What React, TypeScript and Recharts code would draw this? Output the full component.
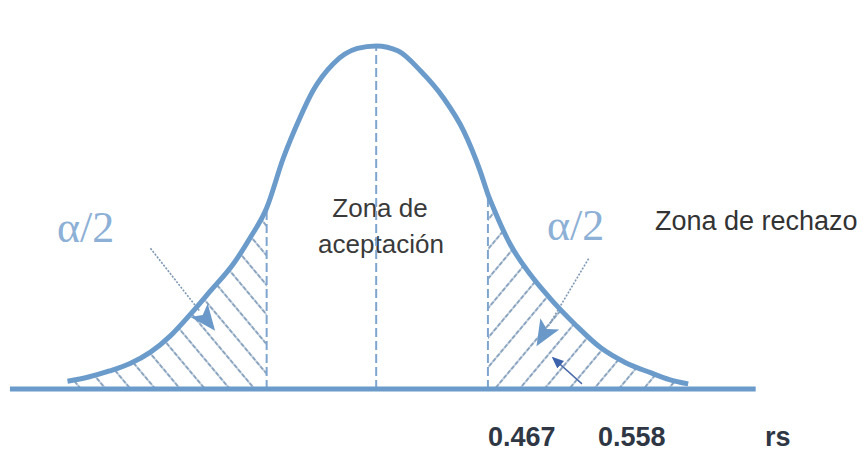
import React from 'react';
import { ComposedChart, Line, Area, XAxis, YAxis, ReferenceLine } from 'recharts';

// curve: z position and density height
const zValues = [-2.79, -2.6, -2.41, -2.22, -2.04, -1.86, -1.68, -1.5, -1.29, -1.14, -0.99, -0.84, -0.69, -0.57, -0.39, -0.17, 0, 0.2, 0.4, 0.61, 0.79, 0.94, 1.01, 1.06, 1.21, 1.39, 1.57, 1.8, 2.03, 2.25, 2.48, 2.65, 2.82];
const density = [0.009, 0.014, 0.021, 0.03, 0.043, 0.062, 0.087, 0.114, 0.146, 0.176, 0.211, 0.269, 0.316, 0.348, 0.379, 0.397, 0.4, 0.394, 0.371, 0.339, 0.301, 0.254, 0.227, 0.211, 0.169, 0.134, 0.106, 0.075, 0.048, 0.031, 0.019, 0.011, 0.006];

const lowerBound = -0.99;
const upperBound = 1.01;
const lowerBoundHeight = 0.211;
const upperBoundHeight = 0.227;
const peakHeight = 0.4;

const axisRange = [-3.31, 3.43];

// annotation arrows: [x1, y1, x2, y2] in chart units
const leftArrow = [-2.04, 0.164, -1.59, 0.09];
const rightArrow = [1.92, 0.152, 1.56, 0.074];
const smallArrow = [1.86, 0.006, 1.6, 0.036];

const bottomLabels = ['0.467', '0.558', 'rs'];

const data = zValues.map((z, i) => ({
  z,
  curve: density[i],
  left: z <= lowerBound ? density[i] : null,
  right: z >= upperBound ? density[i] : null,
}));

const BLUE = '#6b9bcb';
const DASH = '#7fa5cf';
const HATCH = '#8aa3bf';

const arrowShape = (color: string, width: number, marker: string, dash?: string) => (p: any) => (
  <line
    x1={p.x1}
    y1={p.y1}
    x2={p.x2}
    y2={p.y2}
    stroke={color}
    strokeWidth={width}
    strokeDasharray={dash}
    markerEnd={`url(#${marker})`}
  />
);

export default function App() {
  return (
    <div style={{ position: 'absolute', left: 0, top: 0, background: '#fff' }}>
      <ComposedChart
        width={863}
        height={454}
        data={data}
        margin={{ top: 3, right: 0, left: 0, bottom: 65 }}
      >
        <defs>
          <pattern id="hatchL" width="19" height="6" patternUnits="userSpaceOnUse" patternTransform="rotate(-40)">
            <line x1="2" y1="0" x2="2" y2="6" stroke={HATCH} strokeWidth="2" strokeDasharray="2.5 1" />
          </pattern>
          <pattern id="hatchR" width="19" height="6" patternUnits="userSpaceOnUse" patternTransform="rotate(40)">
            <line x1="2" y1="0" x2="2" y2="6" stroke={HATCH} strokeWidth="2" strokeDasharray="2.5 1" />
          </pattern>
          <marker id="blob" viewBox="0 -13 28 26" refX="2" refY="0" markerWidth="28" markerHeight="26" markerUnits="userSpaceOnUse" orient="auto">
            <path d="M0,-11 L26,0 L0,11 L6,0 Z" fill="#6a99c9" />
          </marker>
          <marker id="tip" viewBox="0 -6 12 12" refX="10" refY="0" markerWidth="12" markerHeight="12" markerUnits="userSpaceOnUse" orient="auto">
            <path d="M0,-5 L12,0 L0,5 Z" fill="#3d63ad" />
          </marker>
        </defs>
        <XAxis type="number" dataKey="z" domain={[-3.4, 4.4]} hide allowDataOverflow />
        <YAxis type="number" domain={[0, 0.45]} hide allowDataOverflow />
        <Area dataKey="left" type="monotone" stroke="none" fill="url(#hatchL)" fillOpacity={1} isAnimationActive={false} />
        <Area dataKey="right" type="monotone" stroke="none" fill="url(#hatchR)" fillOpacity={1} isAnimationActive={false} />
        <ReferenceLine segment={[{ x: 0, y: 0 }, { x: 0, y: peakHeight }]} stroke={DASH} strokeWidth={2} strokeDasharray="9 4" />
        <ReferenceLine segment={[{ x: lowerBound, y: 0 }, { x: lowerBound, y: lowerBoundHeight }]} stroke={DASH} strokeWidth={2} strokeDasharray="9 4" />
        <ReferenceLine segment={[{ x: upperBound, y: 0 }, { x: upperBound, y: upperBoundHeight }]} stroke={DASH} strokeWidth={2} strokeDasharray="9 4" />
        <ReferenceLine
          segment={[{ x: leftArrow[0], y: leftArrow[1] }, { x: leftArrow[2], y: leftArrow[3] }]}
          ifOverflow="visible"
          shape={arrowShape('#7f97b2', 1.6, 'blob', '2 1.5')}
        />
        <ReferenceLine
          segment={[{ x: rightArrow[0], y: rightArrow[1] }, { x: rightArrow[2], y: rightArrow[3] }]}
          ifOverflow="visible"
          shape={arrowShape('#7f97b2', 1.6, 'blob', '2 1.5')}
        />
        <ReferenceLine
          segment={[{ x: smallArrow[0], y: smallArrow[1] }, { x: smallArrow[2], y: smallArrow[3] }]}
          ifOverflow="visible"
          shape={arrowShape('#4a6aa8', 1.4, 'tip')}
        />
        <Line dataKey="curve" type="monotone" stroke={BLUE} strokeWidth={5} dot={false} isAnimationActive={false} />
        <ReferenceLine
          segment={[{ x: axisRange[0], y: 0 }, { x: axisRange[1], y: 0 }]}
          stroke={BLUE}
          strokeWidth={5}
          ifOverflow="visible"
        />

        <text x={57} y={242} fontFamily="Liberation Serif" fontSize={44} fill="#8db0d6">α/2</text>
        <text x={547} y={240} fontFamily="Liberation Serif" fontSize={44} fill="#8db0d6">α/2</text>
        <text x={380} y={217} textAnchor="middle" fontFamily="Liberation Sans" fontSize={26} fill="#3a3a3a">Zona de</text>
        <text x={381} y={253} textAnchor="middle" fontFamily="Liberation Sans" fontSize={26} fill="#3a3a3a">aceptación</text>
        <text x={655} y={230} fontFamily="Liberation Sans" fontSize={27} fill="#333">Zona de rechazo</text>
        <text x={488} y={446} fontFamily="Liberation Sans" fontWeight="bold" fontSize={27} fill="#2f3745">{bottomLabels[0]}</text>
        <text x={598} y={446} fontFamily="Liberation Sans" fontWeight="bold" fontSize={27} fill="#2f3745">{bottomLabels[1]}</text>
        <text x={765} y={446} fontFamily="Liberation Sans" fontWeight="bold" fontSize={27} fill="#2f3745">{bottomLabels[2]}</text>
      </ComposedChart>
    </div>
  );
}
